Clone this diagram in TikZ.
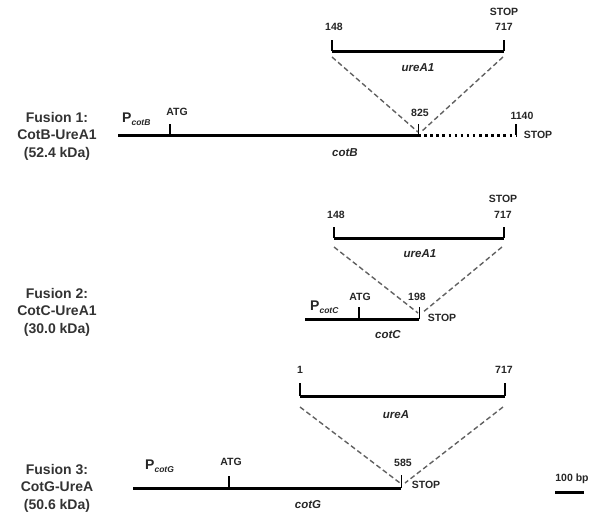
\documentclass[tikz,border=0pt]{standalone}
\usepackage{fontspec}
\setmainfont{Liberation Sans}
\newcommand{\prom}[1]{P\raisebox{-3.5pt}{\fontsize{8.5}{9}\selectfont\itshape #1}}

\begin{document}
\begin{tikzpicture}[x=1pt,y=-1pt]
\tikzset{gene/.style = {line width = 3pt}, tick/.style = {line width = 1.9pt}, joint/.style = {line width = 1pt},
  link/.style = {dash pattern = on 5pt off 3pt, line width = 1.4pt, black!62},
  num/.style = {font = \bfseries\fontsize{10.5}{12}\selectfont, inner sep = 1pt, text = black!85},
  gname/.style = {font = \bfseries\itshape\fontsize{11.5}{13}\selectfont, inner sep = 1pt, text = black!85},
  title/.style = {font = \bfseries\fontsize{14}{17.5}\selectfont, align = center, text = black!80},
  promo/.style = {font = \bfseries\fontsize{14}{17}\selectfont, anchor = west, inner sep = 0pt, text = black!85}}
\useasboundingbox (0,0) rectangle (600,520);

\coordinate (A0) at (118,135); \coordinate (Aatg) at (170,135); \coordinate (A825) at (418,135); \coordinate (A1140) at (516,135);
\coordinate (U1) at (332,51); \coordinate (U2) at (504,51);
\coordinate (L1) at (332,57); \coordinate (L2) at (418,132); \coordinate (R1) at (503,57); \coordinate (R2) at (421,132);
\draw[gene] (A0) -- (A825); \draw[gene, dash pattern = on 2.5pt off 3.6pt] (A825) -- (A1140);
\draw[tick] (Aatg) -- ++(0,-11); \draw[tick] (A1140) -- ++(0,-11); \draw[joint] (A825) -- ++(0,-11);
\draw[gene] (U1) -- (U2); \draw[tick] (U1) -- ++(0,-11); \draw[tick] (U2) -- ++(0,-11);
\draw[link] (L1) -- (L2); \draw[link] (R1) -- (R2);
\node[title] (T1) at (57,136) {Fusion 1:\\CotB-UreA1\\(52.4 kDa)};
\node[promo] (P1) at (122,119) {\prom{cotB}};
\node[num] (a1) at (177,112) {ATG}; \node[num] (a2) at (420,113) {825}; \node[num] (a3) at (522,116) {1140};
\node[num] (a4) at (538,135) {STOP}; \node[gname] (a5) at (345,153) {cotB};
\node[num] (a6) at (334,27) {148}; \node[num] (a7) at (504,27) {717}; \node[num] (a8) at (504,12) {STOP};
\node[gname] (a9) at (418,68) {ureA1};

\coordinate (B0) at (305,319); \coordinate (Batg) at (359,319); \coordinate (B198) at (419,319);
\coordinate (V1) at (334,238); \coordinate (V2) at (504,238);
\coordinate (M1) at (334,247); \coordinate (M2) at (418,313); \coordinate (N1) at (502,247); \coordinate (N2) at (422,313);
\draw[gene] (B0) -- (B198); \draw[tick] (Batg) -- ++(0,-12); \draw[joint] (B198) -- ++(0,-12);
\draw[gene] (V1) -- (V2); \draw[tick] (V1) -- ++(0,-11); \draw[tick] (V2) -- ++(0,-11);
\draw[link] (M1) -- (M2); \draw[link] (N1) -- (N2);
\node[title] (T2) at (57,312) {Fusion 2:\\CotC-UreA1\\(30.0 kDa)};
\node[promo] (P2) at (310,307) {\prom{cotC}};
\node[num] (b1) at (360,297) {ATG}; \node[num] (b2) at (417,297) {198}; \node[num] (b3) at (442,318) {STOP};
\node[gname] (b4) at (388,335) {cotC};
\node[num] (b5) at (336,215) {148}; \node[num] (b6) at (503,215) {717}; \node[num] (b7) at (503,199) {STOP};
\node[gname] (b8) at (420,254) {ureA1};

\coordinate (C0) at (133,488); \coordinate (Catg) at (229,488); \coordinate (C585) at (401,488);
\coordinate (W1) at (300,396); \coordinate (W2) at (505,396);
\coordinate (J1) at (300,407); \coordinate (J2) at (400,483); \coordinate (K1) at (503,407); \coordinate (K2) at (405,483);
\draw[gene] (C0) -- (C585); \draw[tick] (Catg) -- ++(0,-12); \draw[joint] (C585) -- ++(0,-13);
\draw[gene] (W1) -- (W2); \draw[tick] (W1) -- ++(0,-13); \draw[tick] (W2) -- ++(0,-13);
\draw[link] (J1) -- (J2); \draw[link] (K1) -- (K2);
\node[title] (T3) at (57,488) {Fusion 3:\\CotG-UreA\\(50.6 kDa)};
\node[promo] (P3) at (145,466) {\prom{cotG}};
\node[num] (c1) at (231,462) {ATG}; \node[num] (c2) at (403,463) {585}; \node[num] (c3) at (426,485) {STOP};
\node[gname] (c4) at (308,505) {cotG};
\node[num] (c5) at (300,370) {1}; \node[num] (c6) at (504,370) {717};
\node[gname] (c7) at (396,415) {ureA};

\coordinate (S1) at (555,492); \coordinate (S2) at (584,492);
\draw[gene] (S1) -- (S2); \node[num] (s1) at (572,479) {100 bp};
\end{tikzpicture}
\end{document}
